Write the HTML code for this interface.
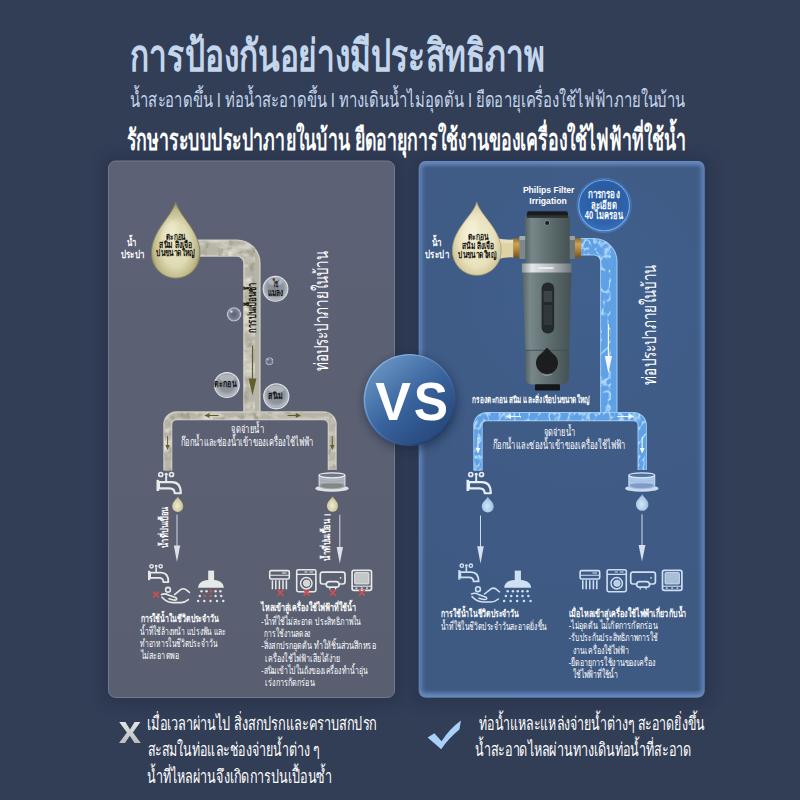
<!DOCTYPE html>
<html lang="th"><head><meta charset="utf-8"><title>การป้องกันอย่างมีประสิทธิภาพ</title>
<style>html,body{margin:0;padding:0;background:#323d56;font-family:"Liberation Sans",sans-serif}svg{display:block}</style></head>
<body>
<svg width="800" height="800" viewBox="0 0 800 800" font-family="Liberation Sans, sans-serif">
<defs>

<radialGradient id="bgv" cx="0.5" cy="0.42" r="0.75">
 <stop offset="0" stop-color="#323d56"/><stop offset="1" stop-color="#323d56"/>
</radialGradient>
<linearGradient id="lp" x1="0" y1="0" x2="0" y2="1">
 <stop offset="0" stop-color="#5c6175"/><stop offset="0.5" stop-color="#5b6073"/><stop offset="1" stop-color="#595e71"/>
</linearGradient>
<radialGradient id="rpglow" gradientUnits="userSpaceOnUse" cx="585" cy="290" r="330">
 <stop offset="0" stop-color="#41608d"/><stop offset="0.4" stop-color="#3f5c87"/><stop offset="0.8" stop-color="#3f5a84"/><stop offset="1" stop-color="#3e5982"/>
</radialGradient>
<linearGradient id="rpedge" x1="0" y1="0" x2="0" y2="1">
 <stop offset="0" stop-color="#6f93c8" stop-opacity="0.5"/><stop offset="0.012" stop-color="#6f93c8" stop-opacity="0"/>
 <stop offset="0.985" stop-color="#6f93c8" stop-opacity="0"/><stop offset="1" stop-color="#6f93c8" stop-opacity="0.55"/>
</linearGradient>
<radialGradient id="dropL" cx="0.5" cy="0.56" r="0.58">
 <stop offset="0" stop-color="#ebe8c6"/><stop offset="0.5" stop-color="#dedab2"/><stop offset="0.8" stop-color="#bcb689"/><stop offset="1" stop-color="#7c764f"/>
</radialGradient>
<radialGradient id="dropR" cx="0.5" cy="0.52" r="0.6">
 <stop offset="0" stop-color="#f3edd0"/><stop offset="0.6" stop-color="#e9e1bd"/><stop offset="0.86" stop-color="#d2c89c"/><stop offset="1" stop-color="#a69c72"/>
</radialGradient>
<radialGradient id="dropS" cx="0.45" cy="0.6" r="0.6">
 <stop offset="0" stop-color="#f0edd0"/><stop offset="0.7" stop-color="#cfcaa0"/><stop offset="1" stop-color="#8d8760"/>
</radialGradient>
<radialGradient id="dropB" cx="0.45" cy="0.6" r="0.6">
 <stop offset="0" stop-color="#d5e6f6"/><stop offset="0.7" stop-color="#a9c8e8"/><stop offset="1" stop-color="#7fa6d2"/>
</radialGradient>
<radialGradient id="bub" cx="0.5" cy="0.45" r="0.55">
 <stop offset="0" stop-color="#858b93"/><stop offset="0.6" stop-color="#8f959d"/><stop offset="0.87" stop-color="#b4b9c0"/><stop offset="1" stop-color="#8a929c"/>
</radialGradient>
<radialGradient id="bub2" cx="0.5" cy="0.5" r="0.5">
 <stop offset="0" stop-color="#6d778c" stop-opacity="0.2"/><stop offset="0.7" stop-color="#9aa3b2" stop-opacity="0.5"/><stop offset="0.9" stop-color="#d0d6de" stop-opacity="0.9"/><stop offset="1" stop-color="#8a93a2" stop-opacity="0.8"/>
</radialGradient>
<linearGradient id="vsg" x1="0.15" y1="0.1" x2="0.85" y2="0.95">
 <stop offset="0" stop-color="#6591c1"/><stop offset="0.5" stop-color="#38639d"/><stop offset="1" stop-color="#264679"/>
</linearGradient>
<linearGradient id="vsrim" x1="0.15" y1="0.1" x2="0.85" y2="0.95">
 <stop offset="0" stop-color="#8fbcea"/><stop offset="0.5" stop-color="#4a76ae"/><stop offset="1" stop-color="#1c3560"/>
</linearGradient>
<radialGradient id="badge" cx="0.5" cy="0.35" r="0.7">
 <stop offset="0" stop-color="#27579c"/><stop offset="0.7" stop-color="#2f64ac"/><stop offset="1" stop-color="#3d76c0"/>
</radialGradient>
<linearGradient id="fbody" x1="0" y1="0" x2="1" y2="0">
 <stop offset="0" stop-color="#566365"/><stop offset="0.15" stop-color="#788789"/><stop offset="0.45" stop-color="#647375"/><stop offset="1" stop-color="#455254"/>
</linearGradient>
<linearGradient id="fring" x1="0" y1="0" x2="1" y2="0">
 <stop offset="0" stop-color="#8b9296"/><stop offset="0.2" stop-color="#e4e7ea"/><stop offset="0.6" stop-color="#b7bcc1"/><stop offset="1" stop-color="#70777c"/>
</linearGradient>
<linearGradient id="brass" x1="0" y1="0" x2="0" y2="1">
 <stop offset="0" stop-color="#8a6a2c"/><stop offset="0.3" stop-color="#d0a452"/><stop offset="0.6" stop-color="#b08238"/><stop offset="1" stop-color="#6e5222"/>
</linearGradient>
<linearGradient id="xg" x1="0" y1="0" x2="0" y2="1">
 <stop offset="0" stop-color="#e4e6e6"/><stop offset="1" stop-color="#b9bcbc"/>
</linearGradient>
<filter id="marble" x="-5%" y="-5%" width="110%" height="110%" color-interpolation-filters="sRGB">
 <feTurbulence type="fractalNoise" baseFrequency="0.05 0.11" numOctaves="3" seed="7" result="n"/>
 <feColorMatrix in="n" type="matrix" values="0 0 0 0 0.89  0 0 0 0 0.885  0 0 0 0 0.85  2.8 0 0 0 -1.16" result="light"/>
 <feComposite in="light" in2="SourceAlpha" operator="in"/>
</filter>
<filter id="marbleD" x="-5%" y="-5%" width="110%" height="110%" color-interpolation-filters="sRGB">
 <feTurbulence type="fractalNoise" baseFrequency="0.12 0.08" numOctaves="3" seed="21" result="n"/>
 <feColorMatrix in="n" type="matrix" values="0 0 0 0 0.57  0 0 0 0 0.57  0 0 0 0 0.49  0 2.6 0 0 -1.36" result="dark"/>
 <feComposite in="dark" in2="SourceAlpha" operator="in"/>
</filter>
<filter id="water" x="-5%" y="-5%" width="110%" height="110%" color-interpolation-filters="sRGB">
 <feTurbulence type="turbulence" baseFrequency="0.10 0.07" numOctaves="2" seed="9" result="n"/>
 <feColorMatrix in="n" type="matrix" values="0 0 0 0 0.74  0 0 0 0 0.89  0 0 0 0 1.0  -5 0 0 0 1.0" result="light"/>
 <feGaussianBlur in="light" stdDeviation="0.6" result="lb"/>
 <feComposite in="lb" in2="SourceAlpha" operator="in"/>
</filter>
<clipPath id="rpclip"><rect x="418.7" y="161" width="286" height="536.5" rx="7"/></clipPath>
<filter id="blur2"><feGaussianBlur stdDeviation="2"/></filter>
<filter id="blur6" x="-10%" y="-10%" width="120%" height="120%"><feGaussianBlur stdDeviation="6"/></filter>
<filter id="blur4"><feGaussianBlur stdDeviation="4"/></filter>
<filter id="blur1"><feGaussianBlur stdDeviation="0.7"/></filter>
<g id="faucet" fill="none" stroke-width="2.1" stroke-linejoin="round">
 <circle cx="4.75" cy="2.5" r="2" stroke-width="1.7"/><circle cx="15.5" cy="2.5" r="2" stroke-width="1.7"/><circle cx="10.2" cy="2.3" r="0.9" stroke-width="1.5"/>
 <path d="M10.2 3.8V9.4" stroke-width="1.9"/>
 <path d="M3 10.1H16Q24.8 10.1 24.8 21.3H18.7Q18.7 16.4 13.6 16.4H3Z"/>
 <path d="M1.8 7.8V19" stroke-width="2.6"/>
</g>
<g id="hand" fill="none" stroke-width="1.6" stroke-linecap="round" stroke-linejoin="round">
 <circle cx="7.4" cy="4.2" r="2.4"/>
 <path d="M0.9 9Q4.4 7.4 7.9 9.4L13.4 11.4Q16.9 12.4 15.9 14Q14.9 15 11.9 14.2L8.4 13.2"/>
 <path d="M13.9 9L20.4 3.8Q22.9 2.4 25.4 4L28.8 6.8"/>
 <path d="M1.4 11.6Q5.9 17 12.4 17H20.4Q24.4 16.8 27.8 14"/>
</g>
<g id="shower">
 <rect x="10.6" y="0.4" width="5.9" height="10"/>
 <path d="M0.5 17.6Q0.9 9.6 13.4 9.6Q25.8 9.6 26.2 17.6Z"/>
</g>
<g id="inlet">
 <ellipse cx="15.9" cy="16.2" rx="16.7" ry="3.4" fill-opacity="0.9" stroke="none"/>
 <path d="M2.9 3.1V13.6Q2.9 17 15.9 17Q28.9 17 28.9 13.6V3.1Z" fill="#8f98a4" fill-opacity="1" stroke="none"/>
 <path d="M2.9 3.1V13.6Q2.9 17 15.9 17Q28.9 17 28.9 13.6V3.1Z" fill-opacity="0.22" stroke="none"/>
 <ellipse cx="15.9" cy="13.4" rx="12" ry="2.7" fill="#7e857f" fill-opacity="0.9" stroke="none"/>
 <path d="M3.2 6.4Q15.9 9.6 28.6 6.4M3.2 9.4Q15.9 12.6 28.6 9.4" fill="none" stroke-width="0.5" stroke-opacity="0.5"/>
 <ellipse cx="15.9" cy="3.1" rx="13" ry="2.5" fill="#6f7884" fill-opacity="0.9" stroke-width="1.2"/>
 <path d="M2.9 3.1V13.4M28.9 3.1V13.4" stroke-width="1" stroke-opacity="0.8" fill="none"/>
</g>
<g id="inletB">
 <ellipse cx="15.9" cy="16.2" rx="16.7" ry="3.4" fill-opacity="0.9" stroke="none"/>
 <path d="M2.9 3.1V13.6Q2.9 17 15.9 17Q28.9 17 28.9 13.6V3.1Z" fill="#98b6de" fill-opacity="1" stroke="none"/>
 <path d="M2.9 3.1V13.6Q2.9 17 15.9 17Q28.9 17 28.9 13.6V3.1Z" fill-opacity="0.22" stroke="none"/>
 <ellipse cx="15.9" cy="13.4" rx="12" ry="2.7" fill="#7b98c4" fill-opacity="0.9" stroke="none"/>
 <path d="M3.2 6.4Q15.9 9.6 28.6 6.4M3.2 9.4Q15.9 12.6 28.6 9.4" fill="none" stroke-width="0.5" stroke-opacity="0.5"/>
 <ellipse cx="15.9" cy="3.1" rx="13" ry="2.5" fill="#4f6fa2" fill-opacity="0.9" stroke-width="1.2"/>
 <path d="M2.9 3.1V13.4M28.9 3.1V13.4" stroke-width="1" stroke-opacity="0.8" fill="none"/>
</g>
<g id="ic1" fill="none" stroke-width="1.6" stroke-linejoin="round">
 <rect x="0.7" y="1" width="19.6" height="8.4" rx="1.4"/>
 <path d="M0.7 5.6H20.3M13 3.4H17.6" stroke-width="1.1"/>
 <path d="M3.4 10.6V19.6M6.8 10.6V19.6M10.4 10.6V19.6M14 10.6V19.6M17.4 10.6V19.6" stroke-width="1.5"/>
</g>
<g id="ic2" fill="none" stroke-width="1.6" stroke-linejoin="round">
 <rect x="0.7" y="0.7" width="19.2" height="22" rx="1.6"/>
 <path d="M0.7 5.4H19.9M8.4 3H11.4M13.4 3H17.2" stroke-width="1.1"/>
 <circle cx="10.3" cy="14.2" r="5.7" stroke-width="1.5"/>
 <circle cx="10.6" cy="14.2" r="3.2" stroke-width="0.8" fill="currentColor" fill-opacity="0.85"/>
</g>
<g id="ic3" fill="none" stroke-width="1.7" stroke-linejoin="round">
 <path d="M2.8 0.8H23.2Q25.4 0.8 25.4 3V10.4Q25.4 12.6 23.2 12.6H19.6Q19 10.2 16.6 10.2H9.6Q7.2 10.2 6.6 12.6H2.8Q0.7 12.6 0.7 10.4V3Q0.7 0.8 2.8 0.8Z"/>
 <path d="M6.6 12.6Q6.4 15.8 9.6 15.8H16.6Q19.8 15.8 19.6 12.6" />
 <path d="M10.2 16V18.2M16 16V18.2" stroke-width="1.3"/>
 <circle cx="21" cy="6.4" r="0.9" fill="currentColor" stroke="none"/>
</g>
<g id="ic4" fill="none" stroke-width="1.7" stroke-linejoin="round">
 <rect x="0.7" y="0.7" width="19.4" height="20" rx="1.8"/>
 <rect x="3.2" y="3" width="14.4" height="11.4" rx="0.8" fill="currentColor" fill-opacity="0.75" stroke-width="0.9"/>
 <path d="M0.7 16.6H20.1" stroke-width="1.1"/>
 <path d="M4 18.6H6M9.4 18.6H11.4M14.6 18.6H16.6" stroke-width="1.2"/>
</g>
<g id="redx" stroke="#d04e4e" stroke-width="1.7" stroke-linecap="round"><path d="M-2.4-2.4L2.4 2.4M2.4-2.4L-2.4 2.4"/></g>
</defs>
<rect width="800" height="800" fill="url(#bgv)"/>
<rect x="101" y="154" width="301" height="552" rx="12" fill="#242e45" opacity="0.42" filter="url(#blur6)"/>
<rect x="411" y="154" width="301" height="552" rx="12" fill="#222d47" opacity="0.42" filter="url(#blur6)"/>
<rect x="108.5" y="161" width="286" height="536.5" rx="7" fill="url(#lp)" stroke="#6f7a91" stroke-width="1"/>
<rect x="418.7" y="161" width="286" height="536.5" rx="7" fill="url(#rpglow)"/>
<rect x="418.7" y="161" width="286" height="536.5" rx="7" fill="url(#rpedge)"/>
<g clip-path="url(#rpclip)"><rect x="418.7" y="161" width="286" height="536.5" rx="7" fill="none" stroke="#6d92ca" stroke-opacity="0.75" stroke-width="7" filter="url(#blur2)"/></g>
<text x="130" y="71" font-size="44" font-weight="bold" fill="#c4d6ec" textLength="415" lengthAdjust="spacingAndGlyphs">การป้องกันอย่างมีประสิทธิภาพ</text>
<text x="130" y="106.5" font-size="21" fill="#c4d6ec" textLength="555" lengthAdjust="spacingAndGlyphs">น้ำสะอาดขึ้น I ท่อน้ำสะอาดขึ้น I ทางเดินน้ำไม่อุดตัน I ยืดอายุเครื่องใช้ไฟฟ้าภายในบ้าน</text>
<text x="126.5" y="149.5" font-size="29.6" font-weight="bold" fill="#ffffff" textLength="560" lengthAdjust="spacingAndGlyphs">รักษาระบบประปาภายในบ้าน ยืดอายุการใช้งานของเครื่องใช้ไฟฟ้าที่ใช้น้ำ</text>
<path d="M197 248.1H236.9A15 15 0 0 1 251.9 263.1V413" fill="none" stroke="#cdcbc1" stroke-width="17.4"/>
<path d="M197 248.1H236.9A15 15 0 0 1 251.9 263.1V413" fill="none" stroke="#b7b5a8" stroke-width="14.4"/>
<g filter="url(#marble)"><path d="M197 248.1H236.9A15 15 0 0 1 251.9 263.1V413" fill="none" stroke="#fff" stroke-width="15.9"/></g>
<g filter="url(#marbleD)"><path d="M197 248.1H236.9A15 15 0 0 1 251.9 263.1V413" fill="none" stroke="#fff" stroke-width="15.9"/></g>
<path d="M167.8 470.5V424.4A8.7 8.7 0 0 1 176.5 415.7H323.5A8.7 8.7 0 0 1 332.2 424.4V470" fill="none" stroke="#cdcbc1" stroke-width="9.0"/>
<path d="M167.8 470.5V424.4A8.7 8.7 0 0 1 176.5 415.7H323.5A8.7 8.7 0 0 1 332.2 424.4V470" fill="none" stroke="#b7b5a8" stroke-width="6.0"/>
<g filter="url(#marble)"><path d="M167.8 470.5V424.4A8.7 8.7 0 0 1 176.5 415.7H323.5A8.7 8.7 0 0 1 332.2 424.4V470" fill="none" stroke="#fff" stroke-width="7.5"/></g>
<g filter="url(#marbleD)"><path d="M167.8 470.5V424.4A8.7 8.7 0 0 1 176.5 415.7H323.5A8.7 8.7 0 0 1 332.2 424.4V470" fill="none" stroke="#fff" stroke-width="7.5"/></g>
<g stroke="#625d2c" stroke-width="1.2" fill="#625d2c"><path d="M252.5 345.5V381" fill="none"/><path d="M248.6 378.6H256.4L252.5 395.4Z" stroke="none"/><path d="M208.5 415.5H218.6M287.5 415.5H297.5M167.6 436V446M332.3 436V446" fill="none" stroke-width="1"/><path d="M204.4 415.5L209.6 413V418Z M301 415.5L295.8 413V418Z M167.6 450L165.4 445H169.8Z M332.3 450L330.1 445H334.5Z" stroke="none"/></g>
<path d="M175.70 202.00 C180.07 217.57 200.00 230.54 200.00 253.90 A24.30 24.30 0 0 1 151.40 253.90 C151.40 230.54 171.33 217.57 175.70 202.00Z" fill="url(#dropL)" stroke="#857f58" stroke-width="0.9"/>
<ellipse cx="170" cy="232" rx="7" ry="12" fill="#fffde8" opacity="0.35" filter="url(#blur2)" transform="rotate(18 170 232)"/>
<text x="127.1" y="246.3" font-size="10.2" font-weight="bold" fill="#fff" textLength="9.8" lengthAdjust="spacingAndGlyphs">น้ำ</text>
<text x="120.5" y="257.6" font-size="10.4" font-weight="bold" fill="#fff" textLength="24.5" lengthAdjust="spacingAndGlyphs">ประปา</text>
<text x="166.1" y="240" font-size="9.1" font-weight="bold" fill="#141410" textLength="19.6" lengthAdjust="spacingAndGlyphs">ตะกอน</text>
<text x="159.2" y="248.1" font-size="9.1" font-weight="bold" fill="#141410" textLength="32.7" lengthAdjust="spacingAndGlyphs">สนิม สิ่งเจือ</text>
<text x="156.2" y="256.3" font-size="9.1" font-weight="bold" fill="#141410" textLength="38.8" lengthAdjust="spacingAndGlyphs">ปนขนาดใหญ่</text>
<text transform="translate(255.6,332.8) rotate(-90)" x="0" y="0" font-size="12.2" font-weight="bold" fill="#1a1a14" textLength="50.3" lengthAdjust="spacingAndGlyphs">การปนเปื้อนซ้ำ</text>
<circle cx="275.5" cy="288.8" r="12.4" fill="url(#bub)" stroke="#e4e8ec" stroke-width="1.1" stroke-opacity="0.95"/>
<ellipse cx="275.5" cy="282.0" rx="7.4" ry="3.5" fill="#fff" opacity="0.3" filter="url(#blur1)"/>
<circle cx="226.9" cy="385.0" r="12.4" fill="url(#bub)" stroke="#e4e8ec" stroke-width="1.1" stroke-opacity="0.95"/>
<ellipse cx="226.9" cy="378.2" rx="7.4" ry="3.5" fill="#fff" opacity="0.3" filter="url(#blur1)"/>
<circle cx="276.3" cy="396.3" r="12.6" fill="url(#bub)" stroke="#e4e8ec" stroke-width="1.1" stroke-opacity="0.95"/>
<ellipse cx="276.3" cy="389.4" rx="7.6" ry="3.5" fill="#fff" opacity="0.3" filter="url(#blur1)"/>
<circle cx="234.0" cy="314.4" r="7.3" fill="url(#bub2)"/>
<circle cx="231.4" cy="311.5" r="1.3" fill="#fff" opacity="0.7"/>
<circle cx="269.4" cy="361.3" r="4.0" fill="url(#bub2)"/>
<circle cx="268.0" cy="359.7" r="0.7" fill="#fff" opacity="0.7"/>
<text x="272.9" y="287.4" font-size="9.6" font-weight="bold" fill="#15151a" textLength="6.1" lengthAdjust="spacingAndGlyphs">ไข่</text>
<text x="267.9" y="295.5" font-size="9.6" font-weight="bold" fill="#15151a" textLength="15.4" lengthAdjust="spacingAndGlyphs">แมลง</text>
<text x="214.4" y="387.2" font-size="9.3" font-weight="bold" fill="#15151a" textLength="22.1" lengthAdjust="spacingAndGlyphs">ตะกอน</text>
<text x="268.3" y="399.3" font-size="9.6" font-weight="bold" fill="#15151a" textLength="14.2" lengthAdjust="spacingAndGlyphs">สนิม</text>
<text transform="translate(328.3,371.3) rotate(-90)" x="0" y="0" font-size="19.4" fill="#fff" textLength="120.2" lengthAdjust="spacingAndGlyphs">ท่อประปาภายในบ้าน</text>
<text x="231.1" y="433.1" font-size="11.1" fill="#fff" textLength="32.8" lengthAdjust="spacingAndGlyphs">จุดจ่ายน้ำ</text>
<text x="180.5" y="445.7" font-size="11.7" fill="#fff" textLength="133.5" lengthAdjust="spacingAndGlyphs">ก๊อกน้ำและช่องน้ำเข้าของเครื่องใช้ไฟฟ้า</text>
<use href="#faucet" x="156" y="472" stroke="#e8eae8"/>
<path d="M177.80 496.30 C178.81 499.33 183.40 501.86 183.40 506.40 A5.60 5.60 0 0 1 172.20 506.40 C172.20 501.86 176.79 499.33 177.80 496.30Z" fill="url(#dropS)"/>
<path d="M177 514.5V548" stroke="#d6dbe2" stroke-width="1"/><path d="M173.8 545.6H180.2L177 562Z" fill="#dde1e7"/>
<text transform="translate(168,548) rotate(-90)" x="0" y="0" font-size="10" font-weight="bold" fill="#fff" textLength="41.4" lengthAdjust="spacingAndGlyphs">น้ำที่ปนเปื้อน</text>
<use href="#inlet" x="316.1" y="472.2" fill="#eef1f4" stroke="#eef1f4"/>
<path d="M332.60 496.00 C333.63 499.03 338.30 501.56 338.30 506.10 A5.70 5.70 0 0 1 326.90 506.10 C326.90 501.56 331.57 499.03 332.60 496.00Z" fill="url(#dropS)"/>
<path d="M339.8 514.8V549" stroke="#d6dbe2" stroke-width="1"/><path d="M336.6 547H343L339.8 563.5Z" fill="#dde1e7"/>
<path d="M324.4 514.8H330.8" stroke="#fff" stroke-width="1.2"/>
<text transform="translate(330.4,560.5) rotate(-90)" x="0" y="0" font-size="10" font-weight="bold" fill="#fff" textLength="41.6" lengthAdjust="spacingAndGlyphs">น้ำที่ปนเปื้อน</text>
<use href="#faucet" x="147.6" y="564.2" stroke="#e8eae8" transform="translate(147.6 564.2) scale(0.84) translate(-147.6 -564.2)"/>
<use href="#hand" x="160.6" y="585.6" stroke="#e8eae8"/>
<use href="#redx" x="155.9" y="594.5"/>
<g transform="translate(197.6 570.2) scale(1.000 1)" fill="#e6e8e6"><use href="#shower"/><circle cx="3.9" cy="21.0" r="1.2" fill="#e6e8e6"/><circle cx="8.9" cy="21.0" r="1.2" fill="#e6e8e6"/><circle cx="13.5" cy="21.0" r="1.2" fill="#e04a4a"/><circle cx="18.0" cy="21.0" r="1.2" fill="#e6e8e6"/><circle cx="22.8" cy="21.0" r="1.2" fill="#e6e8e6"/><circle cx="2.2" cy="25.8" r="1.2" fill="#e6e8e6"/><circle cx="7.3" cy="25.8" r="1.2" fill="#e04a4a"/><circle cx="12.9" cy="25.8" r="1.2" fill="#e04a4a"/><circle cx="18.0" cy="25.8" r="1.2" fill="#e6e8e6"/><circle cx="23.6" cy="25.8" r="1.2" fill="#e6e8e6"/><circle cx="0.5" cy="30.8" r="1.2" fill="#e6e8e6"/><circle cx="6.7" cy="30.8" r="1.2" fill="#e6e8e6"/><circle cx="12.9" cy="30.8" r="1.2" fill="#e6e8e6"/><circle cx="19.4" cy="30.8" r="1.2" fill="#e6e8e6"/><circle cx="25.7" cy="30.8" r="1.2" fill="#e6e8e6"/></g>
<text x="140.5" y="622" font-size="10.2" font-weight="bold" fill="#fff" textLength="78.1" lengthAdjust="spacingAndGlyphs">การใช้น้ำในชีวิตประจำวัน</text>
<text x="140.3" y="634.8" font-size="10.4" fill="#fff" textLength="85.7" lengthAdjust="spacingAndGlyphs">น้ำที่ใช้ล้างหน้า แปรงฟัน และ</text>
<text x="140.3" y="647.2" font-size="10.4" fill="#fff" textLength="76.9" lengthAdjust="spacingAndGlyphs">ทำอาหารในชีวิตประจำวัน</text>
<text x="140.9" y="658.8" font-size="10.4" fill="#fff" textLength="38.4" lengthAdjust="spacingAndGlyphs">ไม่สะอาดพอ</text>
<g stroke="#e8eae8" color="#e8eae8"><use href="#ic1" x="269.0" y="569.6"/><use href="#ic2" x="296.0" y="569"/><use href="#ic3" x="319.6" y="571.4"/><use href="#ic4" x="351.4" y="569.6"/></g>
<use href="#redx" x="280.4" y="592.8"/><use href="#redx" x="306.6" y="592.8"/><use href="#redx" x="332.8" y="592.8"/><use href="#redx" x="362.0" y="592.8"/>
<text x="261.3" y="611.4" font-size="10.4" font-weight="bold" fill="#fff" textLength="94.8" lengthAdjust="spacingAndGlyphs">ไหลเข้าสู่เครื่องใช้ไฟฟ้าที่ใช้น้ำ</text>
<text x="261.3" y="624.6" font-size="10.4" fill="#fff" textLength="99.8" lengthAdjust="spacingAndGlyphs">-น้ำที่ใช้ไม่สะอาด ประสิทธิภาพใน</text>
<text x="264.3" y="636.5" font-size="10.4" fill="#fff" textLength="46.4" lengthAdjust="spacingAndGlyphs">การใช้งานลดลง</text>
<text x="261.3" y="649.4" font-size="10.4" fill="#fff" textLength="114.5" lengthAdjust="spacingAndGlyphs">-สิ่งสกปรกอุดตัน ทำให้ชิ้นส่วนสึกหรอ</text>
<text x="265.3" y="661.7" font-size="10.4" fill="#fff" textLength="75.3" lengthAdjust="spacingAndGlyphs">เครื่องใช้ไฟฟ้าเสียได้ง่าย</text>
<text x="261.3" y="674" font-size="10.4" fill="#fff" textLength="106" lengthAdjust="spacingAndGlyphs">-สนิมเข้าไปในถังของเครื่องทำน้ำอุ่น</text>
<text x="265.3" y="685.9" font-size="10.4" fill="#fff" textLength="49.2" lengthAdjust="spacingAndGlyphs">เร่งการกัดกร่อน</text>
<path d="M495 237.6Q505 240.6 513.6 239.6V257.4Q505 256.4 495 260.4Z" fill="#ddd3a8"/><path d="M497 238.6Q506 240.6 513.6 239.4V243Q506 244 497 242Z" fill="#f0e8c4" opacity="0.6"/>
<path d="M476.80 202.20 C481.19 216.81 501.20 228.99 501.20 250.90 A24.40 24.40 0 0 1 452.40 250.90 C452.40 228.99 472.41 216.81 476.80 202.20Z" fill="url(#dropR)" stroke="#a89e72" stroke-width="0.7"/>
<ellipse cx="470" cy="230" rx="7" ry="13" fill="#fffbe6" opacity="0.4" filter="url(#blur2)" transform="rotate(18 470 230)"/>
<text x="431.5" y="245.8" font-size="10.2" font-weight="bold" fill="#fff" textLength="10.3" lengthAdjust="spacingAndGlyphs">น้ำ</text>
<text x="424.8" y="257.6" font-size="10.4" font-weight="bold" fill="#fff" textLength="24.5" lengthAdjust="spacingAndGlyphs">ประปา</text>
<text x="467.8" y="239.7" font-size="9.1" font-weight="bold" fill="#141410" textLength="20.6" lengthAdjust="spacingAndGlyphs">ตะกอน</text>
<text x="461.8" y="248.6" font-size="9.1" font-weight="bold" fill="#141410" textLength="31.7" lengthAdjust="spacingAndGlyphs">สนิม สิ่งเจือ</text>
<text x="458.4" y="257.6" font-size="9.1" font-weight="bold" fill="#141410" textLength="38.1" lengthAdjust="spacingAndGlyphs">ปนขนาดใหญ่</text>
<path d="M580 246.8H594A14.8 14.8 0 0 1 608.8 261.6V414" fill="none" stroke="#9ccaf4" stroke-width="17.4"/>
<path d="M580 246.8H594A14.8 14.8 0 0 1 608.8 261.6V414" fill="none" stroke="#60a1e5" stroke-width="15.4"/>
<g filter="url(#water)"><path d="M580 246.8H594A14.8 14.8 0 0 1 608.8 261.6V414" fill="none" stroke="#fff" stroke-width="16.4"/></g>
<path d="M478 470.5V425.4A8.8 8.8 0 0 1 486.8 416.6H633.4A8.8 8.8 0 0 1 642.2 425.4V470" fill="none" stroke="#9ccaf4" stroke-width="9.4"/>
<path d="M478 470.5V425.4A8.8 8.8 0 0 1 486.8 416.6H633.4A8.8 8.8 0 0 1 642.2 425.4V470" fill="none" stroke="#60a1e5" stroke-width="7.4"/>
<g filter="url(#water)"><path d="M478 470.5V425.4A8.8 8.8 0 0 1 486.8 416.6H633.4A8.8 8.8 0 0 1 642.2 425.4V470" fill="none" stroke="#fff" stroke-width="8.4"/></g>
<g stroke="#f2f8ff" stroke-width="1.2" fill="#f2f8ff"><path d="M608.4 324V358" fill="none"/><path d="M604.8 356H612L608.4 373.4Z" stroke="none"/><path d="M510 416.5H521M617 416.5H629M478 437V449M642.2 437V449" fill="none" stroke-width="1.1"/><path d="M505.5 416.5L511 414V419Z M634 416.5L628.5 414V419Z M478 453.5L475.6 448H480.4Z M642.2 453.5L639.8 448H644.6Z" stroke="none"/></g>
<g>
<rect x="513.4" y="238.2" width="7" height="19.7" fill="url(#brass)"/>
<rect x="573.6" y="238.2" width="7.6" height="19.7" fill="url(#brass)"/>
<rect x="519.4" y="236" width="7" height="23" rx="1" fill="#7d888c"/><rect x="519.4" y="236" width="7" height="4" rx="1" fill="#a3adb0"/>
<rect x="568.6" y="236" width="6.4" height="23" rx="1" fill="#6c777b"/><rect x="568.6" y="236" width="6.4" height="4" rx="1" fill="#98a2a6"/>
<rect x="525.2" y="216" width="44.5" height="48.5" fill="url(#fbody)"/>
<path d="M526.9 217.6V213.4Q526.9 211.2 529.1 211.2H565.8Q568 211.2 568 213.4V217.6Z" fill="#191b1d"/>
<rect x="526.9" y="215.2" width="41.1" height="2.4" fill="#2d3235"/>
<path d="M522.4 272H571.4L569.2 350H525.4Z" fill="url(#fbody)"/>
<path d="M525.4 350H569.2L568.8 378Q568.6 384.4 562 384.4H532.4Q525.8 384.4 525.6 378Z" fill="url(#fbody)"/>
<path d="M525.4 350.3H569.2" stroke="#3f4a4e" stroke-width="0.8"/>
<rect x="521.9" y="263.5" width="49.5" height="9" fill="url(#fring)"/>
<rect x="538.5" y="267.2" width="15" height="1.7" fill="#f4f6f8" opacity="0.9"/>
<rect x="541.6" y="282.6" width="12.6" height="50.8" rx="6" fill="#23292c"/>
<rect x="543.6" y="291" width="8.6" height="11" fill="#3b4346"/><rect x="543.6" y="305" width="8.6" height="20" fill="#31383b"/>
<circle cx="547.2" cy="223" r="2.5" fill="#1a1d1f" stroke="#8c979b" stroke-width="0.8"/>
<path d="M547 347.6Q551 352.4 554.8 355.2A11 11 0 1 1 539.2 355.2Q543 352.4 547 347.6Z" fill="#1b1d1f"/>
<path d="M542.5 374.4Q547 376.6 551.5 374.4" stroke="#98a3a7" stroke-width="0.9" fill="none"/>
<rect x="535" y="384.2" width="25" height="6.4" rx="1" fill="#141617"/>
</g>
<text x="522.9" y="192.8" font-size="9.8" font-weight="bold" fill="#fff" textLength="51.5" lengthAdjust="spacingAndGlyphs">Philips Filter</text>
<text x="529.3" y="203.7" font-size="9.8" font-weight="bold" fill="#fff" textLength="37.5" lengthAdjust="spacingAndGlyphs">Irrigation</text>
<circle cx="604.1" cy="205.4" r="27.6" fill="#5a92da" opacity="0.5" filter="url(#blur1)"/><circle cx="604.1" cy="205.4" r="26.6" fill="url(#badge)"/><circle cx="604.1" cy="205.4" r="25.4" fill="none" stroke="#7db2ee" stroke-width="1.1" stroke-opacity="0.9"/>
<text x="587.6" y="198.4" font-size="11.3" font-weight="bold" fill="#fff" textLength="32.2" lengthAdjust="spacingAndGlyphs">การกรอง</text>
<text x="590.9" y="208.9" font-size="11.3" font-weight="bold" fill="#fff" textLength="25.9" lengthAdjust="spacingAndGlyphs">ละเอียด</text>
<text x="584.8" y="218.7" font-size="11.3" font-weight="bold" fill="#fff" textLength="38.4" lengthAdjust="spacingAndGlyphs">40 ไมครอน</text>
<text x="472.2" y="403" font-size="9.3" font-weight="bold" fill="#fff" textLength="117.5" lengthAdjust="spacingAndGlyphs">กรองตะกอน สนิม และสิ่งเจือปนขนาดใหญ่</text>
<text transform="translate(656.1,384.8) rotate(-90)" x="0" y="0" font-size="19.4" fill="#fff" textLength="120" lengthAdjust="spacingAndGlyphs">ท่อประปาภายในบ้าน</text>
<text x="543.6" y="436.2" font-size="11.3" fill="#fff" textLength="31.7" lengthAdjust="spacingAndGlyphs">จุดจ่ายน้ำ</text>
<text x="492.9" y="448.7" font-size="11.7" fill="#fff" textLength="132.6" lengthAdjust="spacingAndGlyphs">ก๊อกน้ำและช่องน้ำเข้าของเครื่องใช้ไฟฟ้า</text>
<use href="#faucet" x="466" y="472" stroke="#e6eef8"/>
<path d="M487.80 496.60 C488.88 499.57 493.80 502.05 493.80 506.50 A6.00 6.00 0 0 1 481.80 506.50 C481.80 502.05 486.72 499.57 487.80 496.60Z" fill="url(#dropB)"/>
<path d="M480.5 515.5V548" stroke="#cfdcee" stroke-width="1"/><path d="M477.2 546.2H483.8L480.5 563.5Z" fill="#d4e0f0"/>
<use href="#inletB" x="625.9" y="472.2" fill="#dceafa" stroke="#dceafa"/>
<path d="M642.20 494.00 C643.33 497.15 648.50 499.77 648.50 504.50 A6.30 6.30 0 0 1 635.90 504.50 C635.90 499.77 641.07 497.15 642.20 494.00Z" fill="url(#dropB)"/>
<path d="M642 514.3V547" stroke="#cfdcee" stroke-width="1"/><path d="M638.6 545H645.4L642 561.6Z" fill="#d4e0f0"/>
<use href="#faucet" x="457.8" y="563.6" stroke="#cfe0f3" transform="translate(457.8 563.6) scale(0.84) translate(-457.8 -563.6)"/>
<use href="#hand" x="470.6" y="585" stroke="#cfe0f3"/>
<g transform="translate(503.6 570.2) scale(1.050 1)" fill="#cfe0f3"><use href="#shower"/><circle cx="3.9" cy="21.0" r="1.2" fill="#cfe0f3"/><circle cx="8.9" cy="21.0" r="1.2" fill="#cfe0f3"/><circle cx="13.5" cy="21.0" r="1.2" fill="#cfe0f3"/><circle cx="18.0" cy="21.0" r="1.2" fill="#cfe0f3"/><circle cx="22.8" cy="21.0" r="1.2" fill="#cfe0f3"/><circle cx="2.2" cy="25.8" r="1.2" fill="#cfe0f3"/><circle cx="7.3" cy="25.8" r="1.2" fill="#cfe0f3"/><circle cx="12.9" cy="25.8" r="1.2" fill="#cfe0f3"/><circle cx="18.0" cy="25.8" r="1.2" fill="#cfe0f3"/><circle cx="23.6" cy="25.8" r="1.2" fill="#cfe0f3"/><circle cx="0.5" cy="30.8" r="1.2" fill="#cfe0f3"/><circle cx="6.7" cy="30.8" r="1.2" fill="#cfe0f3"/><circle cx="12.9" cy="30.8" r="1.2" fill="#cfe0f3"/><circle cx="19.4" cy="30.8" r="1.2" fill="#cfe0f3"/><circle cx="25.7" cy="30.8" r="1.2" fill="#cfe0f3"/></g>
<text x="441" y="616.6" font-size="10.2" font-weight="bold" fill="#fff" textLength="77.9" lengthAdjust="spacingAndGlyphs">การใช้น้ำในชีวิตประจำวัน</text>
<text x="440.8" y="629.6" font-size="10.4" fill="#fff" textLength="105.8" lengthAdjust="spacingAndGlyphs">น้ำที่ใช้ในชีวิตประจำวันสะอาดยิ่งขึ้น</text>
<g stroke="#cfe0f3" color="#cfe0f3"><use href="#ic1" x="579.4" y="569.6"/><use href="#ic2" x="606.4" y="569"/><use href="#ic3" x="630.0" y="571.4"/><use href="#ic4" x="661.8" y="569.6"/></g>
<text x="568.5" y="616.9" font-size="10.4" font-weight="bold" fill="#fff" textLength="118" lengthAdjust="spacingAndGlyphs">เมื่อไหลเข้าสู่เครื่องใช้ไฟฟ้าเกี่ยวกับน้ำ</text>
<text x="568.8" y="629.1" font-size="10.4" fill="#fff" textLength="88.5" lengthAdjust="spacingAndGlyphs">-ไม่อุดตัน ไม่เกิดการกัดกร่อน</text>
<text x="568.8" y="641.4" font-size="10.4" fill="#fff" textLength="89" lengthAdjust="spacingAndGlyphs">-รับประกันประสิทธิภาพการใช้</text>
<text x="573.1" y="653.6" font-size="10.4" fill="#fff" textLength="55.7" lengthAdjust="spacingAndGlyphs">งานเครื่องใช้ไฟฟ้า</text>
<text x="568.8" y="665.9" font-size="10.4" fill="#fff" textLength="86.8" lengthAdjust="spacingAndGlyphs">-ยืดอายุการใช้งานของเครื่อง</text>
<text x="572.7" y="678.1" font-size="10.4" fill="#fff" textLength="45.3" lengthAdjust="spacingAndGlyphs">ใช้ไฟฟ้าที่ใช้น้ำ</text>
<circle cx="410.5" cy="403" r="47" fill="#18223a" opacity="0.5" filter="url(#blur4)"/>
<circle cx="409.6" cy="400" r="46" fill="url(#vsrim)"/><circle cx="409.6" cy="399.6" r="44.4" fill="url(#vsg)"/>
<text x="375.2" y="420.2" font-size="53.2" font-weight="bold" fill="#fff" textLength="35.7" lengthAdjust="spacingAndGlyphs">V</text>
<text x="413.7" y="420.2" font-size="53.2" font-weight="bold" fill="#fff" textLength="34.3" lengthAdjust="spacingAndGlyphs">S</text>
<path d="M119.2 722H125.4L130 729.4L134.6 722H140.4L132.9 732.5L140.8 743H134.6L129.8 735.8L125 743H119L126.9 732.5Z" fill="url(#xg)"/>
<text x="147.2" y="730" font-size="18.5" fill="#fff" textLength="229.8" lengthAdjust="spacingAndGlyphs">เมื่อเวลาผ่านไป สิ่งสกปรกและคราบสกปรก</text>
<text x="147.5" y="756.4" font-size="18.5" fill="#fff" textLength="172.5" lengthAdjust="spacingAndGlyphs">สะสมในท่อและช่องจ่ายน้ำต่าง ๆ</text>
<text x="147.3" y="783" font-size="18.5" fill="#fff" textLength="184.8" lengthAdjust="spacingAndGlyphs">น้ำที่ไหลผ่านจึงเกิดการปนเปื้อนซ้ำ</text>
<path d="M427.6 737.6L434.4 733.2L441.6 741.2Q450 728.4 461 720.6L459.4 729.6Q449 738 441.2 749.2Z" fill="#a9d0f6"/>
<text x="479.3" y="730" font-size="18.5" fill="#fff" textLength="225.8" lengthAdjust="spacingAndGlyphs">ท่อน้ำแหละแหล่งจ่ายน้ำต่างๆ สะอาดยิ่งขึ้น</text>
<text x="475.2" y="756.4" font-size="18.5" fill="#fff" textLength="215.8" lengthAdjust="spacingAndGlyphs">น้ำสะอาดไหลผ่านทางเดินท่อน้ำที่สะอาด</text>

</svg>
</body></html>
